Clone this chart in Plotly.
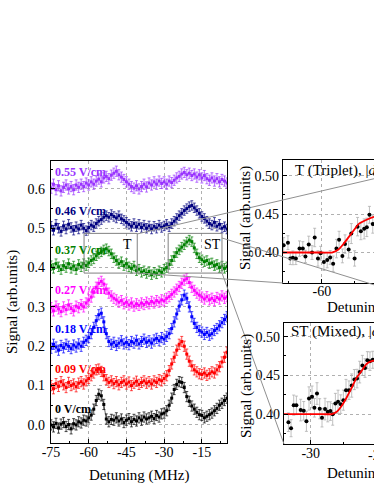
import plotly.graph_objects as go

# ---------------- data ----------------
detuning = [-75, -74, -73, -72, -71, -70, -69, -68, -67, -66, -65, -64, -63, -62, -61, -60,
            -59, -58, -57, -56, -55, -54, -53, -52, -51, -50, -49, -48, -47, -46, -45, -44,
            -43, -42, -41, -40, -39, -38, -37, -36, -35, -34, -33, -32, -31, -30, -29, -28,
            -27, -26, -25, -24, -23, -22, -21, -20, -19, -18, -17, -16, -15, -14, -13, -12,
            -11, -10, -9, -8, -7, -6, -5]

field_labels = ["0 V/cm", "0.09 V/cm", "0.18 V/cm", "0.27 V/cm", "0.37 V/cm", "0.46 V/cm", "0.55 V/cm"]
field_colors = ["#000000", "#ff0000", "#0000ff", "#ff00ff", "#008000", "#000080", "#9933ff"]
field_errors = [0.013, 0.013, 0.013, 0.013, 0.012, 0.012, 0.013]

sig_0 = [0.000, -0.005, 0.004, -0.008, 0.002, 0.006, -0.004, 0.001, -0.010, 0.003, 0.000, 0.008,
         0.005, 0.012, 0.010, 0.018, 0.025, 0.040, 0.062, 0.078, 0.074, 0.052, 0.015, 0.008,
         0.014, 0.012, 0.018, 0.010, 0.015, 0.006, 0.012, 0.016, 0.008, 0.014, 0.010, 0.018,
         0.012, 0.020, 0.015, 0.018, 0.022, 0.016, 0.024, 0.020, 0.028, 0.030, 0.036, 0.050,
         0.068, 0.090, 0.103, 0.110, 0.108, 0.095, 0.072, 0.060, 0.048, 0.040, 0.032, 0.026,
         0.024, 0.018, 0.022, 0.026, 0.030, 0.036, 0.042, 0.050, 0.055, 0.062, 0.068]
sig_009 = [0.100, 0.092, 0.105, 0.098, 0.110, 0.102, 0.095, 0.108, 0.100, 0.104, 0.097, 0.106,
           0.110, 0.104, 0.112, 0.118, 0.125, 0.132, 0.140, 0.142, 0.136, 0.125, 0.115, 0.108,
           0.112, 0.105, 0.110, 0.102, 0.108, 0.112, 0.104, 0.109, 0.100, 0.106, 0.111, 0.103,
           0.108, 0.112, 0.106, 0.110, 0.104, 0.112, 0.108, 0.115, 0.112, 0.118, 0.125, 0.138,
           0.155, 0.172, 0.190, 0.205, 0.212, 0.200, 0.180, 0.162, 0.150, 0.140, 0.135, 0.130,
           0.128, 0.132, 0.126, 0.130, 0.135, 0.132, 0.140, 0.148, 0.160, 0.172, 0.185]
sig_018 = [0.195, 0.205, 0.198, 0.190, 0.202, 0.196, 0.205, 0.200, 0.194, 0.203, 0.198, 0.206,
           0.200, 0.210, 0.215, 0.222, 0.232, 0.248, 0.265, 0.280, 0.284, 0.262, 0.232, 0.212,
           0.205, 0.210, 0.202, 0.208, 0.214, 0.206, 0.210, 0.204, 0.212, 0.208, 0.215, 0.206,
           0.212, 0.218, 0.210, 0.214, 0.208, 0.216, 0.220, 0.214, 0.222, 0.218, 0.225, 0.232,
           0.245, 0.262, 0.282, 0.302, 0.318, 0.330, 0.322, 0.300, 0.275, 0.258, 0.248, 0.240,
           0.236, 0.230, 0.235, 0.228, 0.232, 0.240, 0.245, 0.252, 0.260, 0.268, 0.275]
sig_027 = [0.298, 0.290, 0.302, 0.295, 0.288, 0.300, 0.293, 0.305, 0.296, 0.290, 0.302, 0.298,
           0.306, 0.300, 0.310, 0.318, 0.325, 0.338, 0.350, 0.360, 0.365, 0.358, 0.345, 0.335,
           0.328, 0.322, 0.318, 0.312, 0.316, 0.308, 0.312, 0.305, 0.310, 0.302, 0.308, 0.304,
           0.310, 0.306, 0.312, 0.308, 0.314, 0.310, 0.316, 0.312, 0.318, 0.315, 0.322, 0.326,
           0.332, 0.338, 0.345, 0.352, 0.360, 0.368, 0.372, 0.362, 0.350, 0.342, 0.335, 0.330,
           0.325, 0.320, 0.326, 0.318, 0.322, 0.316, 0.324, 0.320, 0.328, 0.322, 0.326]
sig_037 = [0.405, 0.398, 0.410, 0.402, 0.395, 0.405, 0.400, 0.410, 0.398, 0.404, 0.395, 0.408,
           0.402, 0.410, 0.405, 0.412, 0.418, 0.422, 0.430, 0.436, 0.440, 0.445, 0.448, 0.442,
           0.435, 0.425, 0.418, 0.410, 0.415, 0.405, 0.410, 0.402, 0.398, 0.404, 0.392, 0.396,
           0.388, 0.392, 0.385, 0.390, 0.382, 0.388, 0.384, 0.392, 0.388, 0.396, 0.400, 0.408,
           0.418, 0.428, 0.438, 0.445, 0.452, 0.458, 0.465, 0.470, 0.466, 0.450, 0.435, 0.425,
           0.420, 0.415, 0.418, 0.410, 0.412, 0.405, 0.408, 0.400, 0.404, 0.398, 0.402]
sig_046 = [0.505, 0.495, 0.510, 0.500, 0.492, 0.506, 0.498, 0.510, 0.502, 0.495, 0.504, 0.498,
           0.508, 0.500, 0.494, 0.502, 0.508, 0.504, 0.512, 0.518, 0.522, 0.528, 0.532, 0.528,
           0.535, 0.530, 0.526, 0.532, 0.524, 0.520, 0.515, 0.510, 0.505, 0.512, 0.504, 0.510,
           0.502, 0.508, 0.500, 0.506, 0.498, 0.505, 0.500, 0.508, 0.502, 0.506, 0.510, 0.504,
           0.512, 0.518, 0.525, 0.532, 0.538, 0.545, 0.550, 0.555, 0.558, 0.552, 0.545, 0.538,
           0.530, 0.525, 0.518, 0.512, 0.508, 0.515, 0.505, 0.510, 0.500, 0.504, 0.498]
sig_055 = [0.602, 0.612, 0.598, 0.608, 0.595, 0.604, 0.610, 0.600, 0.606, 0.598, 0.610, 0.604,
           0.612, 0.606, 0.615, 0.610, 0.618, 0.612, 0.620, 0.625, 0.618, 0.628, 0.632, 0.626,
           0.635, 0.640, 0.645, 0.636, 0.630, 0.624, 0.618, 0.612, 0.606, 0.602, 0.608, 0.600,
           0.606, 0.612, 0.605, 0.615, 0.610, 0.618, 0.612, 0.620, 0.614, 0.618, 0.612, 0.620,
           0.616, 0.622, 0.628, 0.632, 0.638, 0.642, 0.636, 0.640, 0.634, 0.638, 0.630, 0.636,
           0.628, 0.634, 0.626, 0.622, 0.628, 0.620, 0.626, 0.618, 0.624, 0.620, 0.615]
field_signals = [sig_0, sig_009, sig_018, sig_027, sig_037, sig_046, sig_055]

main_xticks = [-75, -60, -45, -30, -15]
main_xlabels = ["-75", "-60", "-45", "-30", "-15"]
main_yticks = [0.0, 0.1, 0.2, 0.3, 0.4, 0.5, 0.6]
main_ylabels = ["0.0", "0.1", "0.2", "0.3", "0.4", "0.5", "0.6"]

# Inset T (triplet)
t_x = [-65.8, -65.15, -64.8, -64.4, -63.95, -63.4, -62.9, -62.5, -62.0, -61.5, -61.1, -60.6,
       -60.2, -59.7, -59.2, -58.75, -58.3, -57.8, -57.4, -56.9, -56.5, -55.95, -55.55, -55.05,
       -54.6, -54.1, -53.6, -53.2, -52.8, -52.3]
t_y = [0.4094, 0.4128, 0.3923, 0.3931, 0.3923, 0.4051, 0.4051, 0.3949, 0.4103, 0.4000, 0.4196,
       0.3923, 0.3991, 0.3876, 0.3901, 0.3936, 0.3854, 0.4051, 0.4167, 0.3956, 0.4110, 0.4038,
       0.4247, 0.3923, 0.4337, 0.4277, 0.4308, 0.4328, 0.4491, 0.4372]
t_err = [0.010, 0.009, 0.008, 0.009, 0.008, 0.010, 0.009, 0.008, 0.011, 0.009, 0.012, 0.010,
         0.009, 0.011, 0.010, 0.009, 0.010, 0.012, 0.011, 0.009, 0.012, 0.011, 0.013, 0.010,
         0.012, 0.011, 0.013, 0.012, 0.011, 0.012]
t_fit_x = [-66.0, -64.0, -62.0, -60.0, -58.5, -57.5, -56.7, -55.95, -55.2, -54.45, -53.4, -52.1, -50.0]
t_fit_y = [0.400, 0.400, 0.400, 0.400, 0.400, 0.4038, 0.4115, 0.420, 0.4286, 0.437, 0.442, 0.4465, 0.449]
t_xticks = [-60]
t_xlabels = ["-60"]
inset_yticks = [0.40, 0.45, 0.50]
inset_ylabels = ["0.40", "0.45", "0.50"]

# Inset ST (mixed)
st_x = [-33.38, -32.98, -32.58, -32.17, -31.52, -31.06, -30.65, -30.26, -29.8, -29.44, -29.05,
        -28.64, -28.29, -27.83, -27.42, -27.02, -26.67, -26.26, -25.86, -25.45, -25.05, -24.65,
        -24.2, -23.79, -23.38, -22.98, -22.58, -22.17, -21.77, -21.41, -21.02, -20.6]
st_y = [0.3894, 0.3817, 0.4115, 0.4112, 0.4051, 0.4042, 0.3906, 0.4201, 0.4222, 0.4081, 0.4265,
        0.4068, 0.3953, 0.4064, 0.4029, 0.4038, 0.3996, 0.4137, 0.4158, 0.4128, 0.4179, 0.4308,
        0.4308, 0.4368, 0.4445, 0.4458, 0.4542, 0.4628, 0.4594, 0.4696, 0.4683, 0.4701]
st_err = [0.012, 0.011, 0.013, 0.012, 0.014, 0.012, 0.013, 0.015, 0.014, 0.012, 0.014, 0.013,
          0.012, 0.014, 0.013, 0.012, 0.014, 0.013, 0.015, 0.012, 0.013, 0.014, 0.012, 0.015,
          0.013, 0.012, 0.014, 0.013, 0.012, 0.011, 0.012, 0.011]
st_fit_x = [-35.0, -32.0, -29.0, -26.8, -26.06, -25.3, -24.55, -23.79, -23.03, -22.27, -21.5, -20.76, -19.0]
st_fit_y = [0.400, 0.400, 0.400, 0.400, 0.403, 0.4107, 0.4214, 0.434, 0.447, 0.456, 0.465, 0.4683, 0.471]
st_xticks = [-30]
st_xlabels = ["-30"]

# ---------------- figure ----------------
W, H = 374, 484
FONT = "Liberation Serif"


def px(x):
    return x / W


def py(y):
    return 1 - y / H


fig = go.Figure()

for lab, col, err, sig in zip(field_labels, field_colors, field_errors, field_signals):
    fig.add_trace(go.Scatter(
        x=detuning, y=sig, mode="lines+markers", xaxis="x", yaxis="y",
        marker=dict(symbol="square", size=3, color=col),
        line=dict(color=col, width=0.6),
        error_y=dict(type="constant", value=err, color=col, thickness=0.7, width=1.5),
        showlegend=False, name=lab))

# inset T
fig.add_trace(go.Scatter(
    x=t_x, y=t_y, mode="markers", xaxis="x2", yaxis="y2",
    marker=dict(symbol="circle", size=4, color="black"),
    error_y=dict(type="data", array=t_err, color="#b0b0b0", thickness=0.8, width=1.5),
    showlegend=False))
fig.add_trace(go.Scatter(
    x=t_fit_x, y=t_fit_y, mode="lines", xaxis="x2", yaxis="y2",
    line=dict(color="#ff0000", width=1.8, shape="spline", smoothing=0.6), showlegend=False))

# inset ST
fig.add_trace(go.Scatter(
    x=st_x, y=st_y, mode="markers", xaxis="x3", yaxis="y3",
    marker=dict(symbol="circle", size=4, color="black"),
    error_y=dict(type="data", array=st_err, color="#b0b0b0", thickness=0.8, width=1.5),
    showlegend=False))
fig.add_trace(go.Scatter(
    x=st_fit_x, y=st_fit_y, mode="lines", xaxis="x3", yaxis="y3",
    line=dict(color="#ff0000", width=1.8, shape="spline", smoothing=0.6), showlegend=False))

tickfont = dict(family=FONT, size=14, color="black")
grid = dict(showgrid=True, gridcolor="#b0b0b0", griddash="dot", gridwidth=1, zeroline=False,
            showline=True, linecolor="black", linewidth=1.2, ticks="inside", ticklen=4,
            tickcolor="black", tickfont=tickfont, automargin=False)

fig.update_layout(
    width=W, height=H, margin=dict(l=0, r=0, t=0, b=0, autoexpand=False),
    paper_bgcolor="white", plot_bgcolor="white",
    font=dict(family=FONT, color="black"),
    xaxis=dict(domain=[px(51), px(227)], range=[-75, -5], anchor="y",
               tickmode="array", tickvals=main_xticks, ticktext=main_xlabels, mirror=True,
               ticklabelstandoff=-4,
               minor=dict(tickvals=[-67.5, -52.5, -37.5, -22.5, -7.5], ticks="inside", ticklen=2,
                          tickcolor="black", showgrid=False), **grid),
    yaxis=dict(domain=[py(443), py(161)], range=[-0.046, 0.671], anchor="x",
               tickmode="array", tickvals=main_yticks, ticktext=main_ylabels, mirror=True,
               ticklabelstandoff=2,
               minor=dict(tickvals=[0.05, 0.15, 0.25, 0.35, 0.45, 0.55, 0.65], ticks="inside",
                          ticklen=2, tickcolor="black", showgrid=False), **grid),
    xaxis2=dict(domain=[px(283), 1.0], range=[-65.9, -52.11], anchor="y2",
                tickmode="array", tickvals=t_xticks, ticktext=t_xlabels, mirror=True,
                ticklabelstandoff=-5,
                minor=dict(tickvals=[-65, -55], ticks="inside", ticklen=2, tickcolor="black",
                           showgrid=False), **grid),
    yaxis2=dict(domain=[py(283), py(160)], range=[0.3603, 0.5205], anchor="x2",
                tickmode="array", tickvals=inset_yticks, ticktext=inset_ylabels, mirror=False,
                minor=dict(tickvals=[0.375, 0.425, 0.475], ticks="inside", ticklen=2,
                           tickcolor="black", showgrid=False), **grid),
    xaxis3=dict(domain=[px(284), 1.0], range=[-34.05, -20.41], anchor="y3",
                tickmode="array", tickvals=st_xticks, ticktext=st_xlabels, mirror=True,
                ticklabelstandoff=-4,
                minor=dict(tickvals=[-25], ticks="inside", ticklen=2, tickcolor="black",
                           showgrid=False), **grid),
    yaxis3=dict(domain=[py(444.3), py(322.7)], range=[0.3609, 0.518], anchor="x3",
                tickmode="array", tickvals=inset_yticks, ticktext=inset_ylabels, mirror=False,
                minor=dict(tickvals=[0.375, 0.425, 0.475], ticks="inside", ticklen=2,
                           tickcolor="black", showgrid=False), **grid),
)

# zoom boxes on main panel
box_y = [0.386, 0.487]
fig.add_shape(type="rect", xref="x", yref="y", x0=-61.85, x1=-40.7, y0=box_y[0], y1=box_y[1],
              line=dict(color="#808080", width=1))
fig.add_shape(type="rect", xref="x", yref="y", x0=-28.4, x1=-7.0, y0=box_y[0], y1=box_y[1],
              line=dict(color="#808080", width=1))

# connector lines (paper pixel positions)
connectors = [((137, 234), (420, 168)), ((222, 238), (420, 299)), ((137, 273), (283, 283)),
              ((222, 273), (284, 444))]
for (xa, ya), (xb, yb) in connectors:
    fig.add_shape(type="line", xref="paper", yref="paper", x0=px(xa), y0=py(ya), x1=px(xb), y1=py(yb),
                  line=dict(color="#909090", width=1))

ann = []


def add_text(x, y, text, size=15, color="black", xanchor="center", angle=0, bold=False):
    ann.append(dict(x=px(x), y=py(y), xref="paper", yref="paper",
                    text=("<b>%s</b>" % text) if bold else text, showarrow=False,
                    xanchor=xanchor, yanchor="middle", textangle=angle,
                    font=dict(family=FONT, size=size, color=color)))


# series labels
label_y = [409, 369, 329, 290, 250, 211, 172]
for lab, col, yy in zip(field_labels, field_colors, label_y):
    add_text(53, yy, lab, size=12, color=col, xanchor="left", bold=True)
add_text(128, 244, "T", size=14)
add_text(213, 244, "ST", size=14)
# axis titles
add_text(139, 475, "Detuning (MHz)")
add_text(12, 302, "Signal (arb.units)", angle=-90)
add_text(246, 218, "Signal (arb.units)", angle=-90)
add_text(246, 386, "Signal (arb.units)", angle=-90)
add_text(325, 307, "Detuning (MHz)", xanchor="left")
add_text(325, 473, "Detuning (MHz)", xanchor="left")
add_text(377, 455, "-20", size=14)
# inset titles
add_text(293, 170, "T (Triplet), |<i>d</i>", xanchor="left")
add_text(289, 331, "ST (Mixed), |<i>d</i>", xanchor="left")
fig.update_layout(annotations=ann)

fig.write_html("out.html", config={"displayModeBar": False},
               post_script="document.body.style.margin='0px';")
